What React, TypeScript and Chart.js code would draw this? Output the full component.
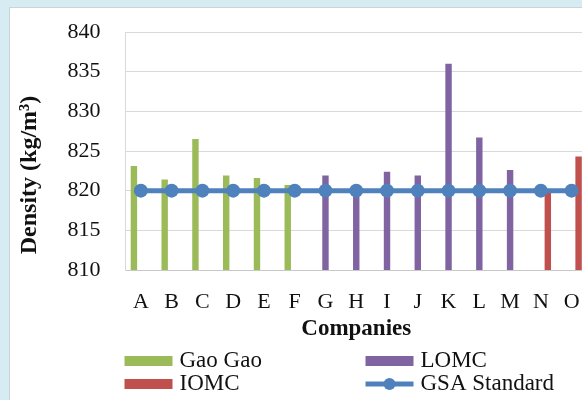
import React, { useEffect, useRef } from "react";
import { Chart, registerables } from "chart.js";

Chart.register(...registerables);

const companies = ["A", "B", "C", "D", "E", "F", "G", "H", "I", "J", "K", "L", "M", "N", "O"];
const gaoGao = [823.1, 821.4, 826.5, 821.9, 821.6, 820.7, null, null, null, null, null, null, null, null, null];
const lomc = [null, null, null, null, null, null, 821.9, 819.9, 822.4, 821.9, 836.0, 826.7, 822.6, null, null];
const iomc = [null, null, null, null, null, null, null, null, null, null, null, null, null, 819.8, 824.3];
const gsaStandard = [820, 820, 820, 820, 820, 820, 820, 820, 820, 820, 820, 820, 820, 820, 820];
const yTicks = [810, 815, 820, 825, 830, 835, 840];
const yTitle = "Density (kg/m³)";
const xTitle = "Companies";

const GREEN = "#9bbb59";
const PURPLE = "#8064a2";
const RED = "#c0504d";
const BLUE = "#4f81bd";
const SERIF = '"Liberation Serif", "Times New Roman", serif';

const yTitlePlugin = {
  id: "yTitle",
  afterDraw(chart: any) {
    const { ctx, chartArea } = chart;
    ctx.save();
    ctx.translate(30, chartArea.bottom - 95);
    ctx.rotate(-Math.PI / 2);
    ctx.font = `bold 24px ${SERIF}`;
    ctx.fillStyle = "#111";
    ctx.textAlign = "center";
    ctx.textBaseline = "middle";
    ctx.fillText(yTitle, 0, 0);
    ctx.restore();
  },
};

const legendPlugin = {
  id: "excelLegend",
  afterDraw(chart: any) {
    const { ctx, chartArea } = chart;
    const ds = chart.data.datasets;
    const col1 = chartArea.left - 1;
    const col2 = chartArea.left + 240;
    const row1 = chartArea.bottom + 91;
    const row2 = chartArea.bottom + 114;
    const boxW = 48;
    const boxH = 10;
    const items = [
      { ds: ds[1], x: col1, y: row1, kind: "box" },
      { ds: ds[2], x: col2, y: row1, kind: "box" },
      { ds: ds[3], x: col1, y: row2, kind: "box" },
      { ds: ds[0], x: col2, y: row2, kind: "line" },
    ];
    ctx.save();
    ctx.font = `23px ${SERIF}`;
    ctx.textBaseline = "middle";
    ctx.textAlign = "left";
    for (const it of items) {
      if (it.kind === "box") {
        ctx.fillStyle = it.ds.backgroundColor;
        ctx.fillRect(it.x, it.y - boxH / 2, boxW, boxH);
      } else {
        ctx.strokeStyle = it.ds.borderColor;
        ctx.lineWidth = 5;
        ctx.beginPath();
        ctx.moveTo(it.x, it.y);
        ctx.lineTo(it.x + boxW, it.y);
        ctx.stroke();
        ctx.fillStyle = it.ds.borderColor;
        ctx.beginPath();
        ctx.arc(it.x + boxW / 2, it.y, 6, 0, Math.PI * 2);
        ctx.fill();
      }
      ctx.fillStyle = "#111";
      ctx.fillText(it.ds.label, it.x + boxW + 7, it.y);
    }
    ctx.restore();
  },
};

export default function App() {
  const ref = useRef<HTMLCanvasElement | null>(null);

  useEffect(() => {
    if (!ref.current) return;
    const chart = new Chart(ref.current, {
      type: "bar",
      data: {
        labels: companies,
        datasets: [
          {
            type: "line",
            label: "GSA Standard",
            data: gsaStandard,
            borderColor: BLUE,
            backgroundColor: BLUE,
            borderWidth: 5,
            pointRadius: 7,
            pointBorderWidth: 0,
            pointBackgroundColor: BLUE,
            order: 0,
          } as any,
          {
            label: "Gao Gao",
            data: gaoGao,
            backgroundColor: GREEN,
            categoryPercentage: 0.68,
            barPercentage: 0.92,
            order: 1,
          },
          {
            label: "LOMC",
            data: lomc,
            backgroundColor: PURPLE,
            categoryPercentage: 0.68,
            barPercentage: 0.92,
            order: 1,
          },
          {
            label: "IOMC",
            data: iomc,
            backgroundColor: RED,
            categoryPercentage: 0.68,
            barPercentage: 0.92,
            order: 1,
          },
        ],
      },
      options: {
        animation: false,
        responsive: false,
        devicePixelRatio: 1,
        layout: { padding: { left: 0, top: 32, right: 13, bottom: 57 } },
        plugins: {
          legend: { display: false },
          tooltip: { enabled: false },
        },
        scales: {
          x: {
            offset: true,
            grid: { display: false, drawTicks: false },
            border: { display: true, color: "#c8c8c8", width: 1 },
            ticks: {
              color: "#111",
              font: { family: SERIF, size: 22 },
              padding: 19,
              maxRotation: 0,
              autoSkip: false,
            },
            title: {
              display: true,
              text: xTitle,
              color: "#111",
              font: { family: SERIF, size: 23, weight: "bold" },
              padding: { top: 0, bottom: 0 },
            },
            afterFit(scale: any) {
              scale.height = 73;
              scale.paddingLeft = 0;
              scale.paddingRight = 0;
            },
          },
          y: {
            min: 810,
            max: 840,
            afterBuildTicks(scale: any) {
              scale.ticks = yTicks.map((v) => ({ value: v }));
            },
            grid: { color: "#d9d9d9", lineWidth: 1, drawTicks: false },
            border: { display: true, color: "#d9d9d9", width: 1 },
            ticks: {
              color: "#111",
              font: { family: SERIF, size: 22 },
              padding: 25,
            },
            title: { display: false },
            afterFit(scale: any) {
              scale.width = 125.5;
              scale.paddingTop = 0;
              scale.paddingBottom = 0;
            },
          },
        },
      },
      plugins: [legendPlugin, yTitlePlugin],
    });
    return () => chart.destroy();
  }, []);

  return (
    <div
      style={{
        position: "fixed",
        left: 0,
        top: 0,
        width: 582,
        height: 400,
        overflow: "hidden",
        background: "#d6ebf2",
      }}
    >
      <div
        style={{
          position: "absolute",
          left: 9,
          top: 7,
          width: 620,
          height: 420,
          background: "#ffffff",
          border: "1px solid #c9d3d8",
        }}
      />
      <canvas
        ref={ref}
        width={600}
        height={400}
        style={{ position: "absolute", left: 0, top: 0, width: 600, height: 400, display: "block" }}
      />
    </div>
  );
}
